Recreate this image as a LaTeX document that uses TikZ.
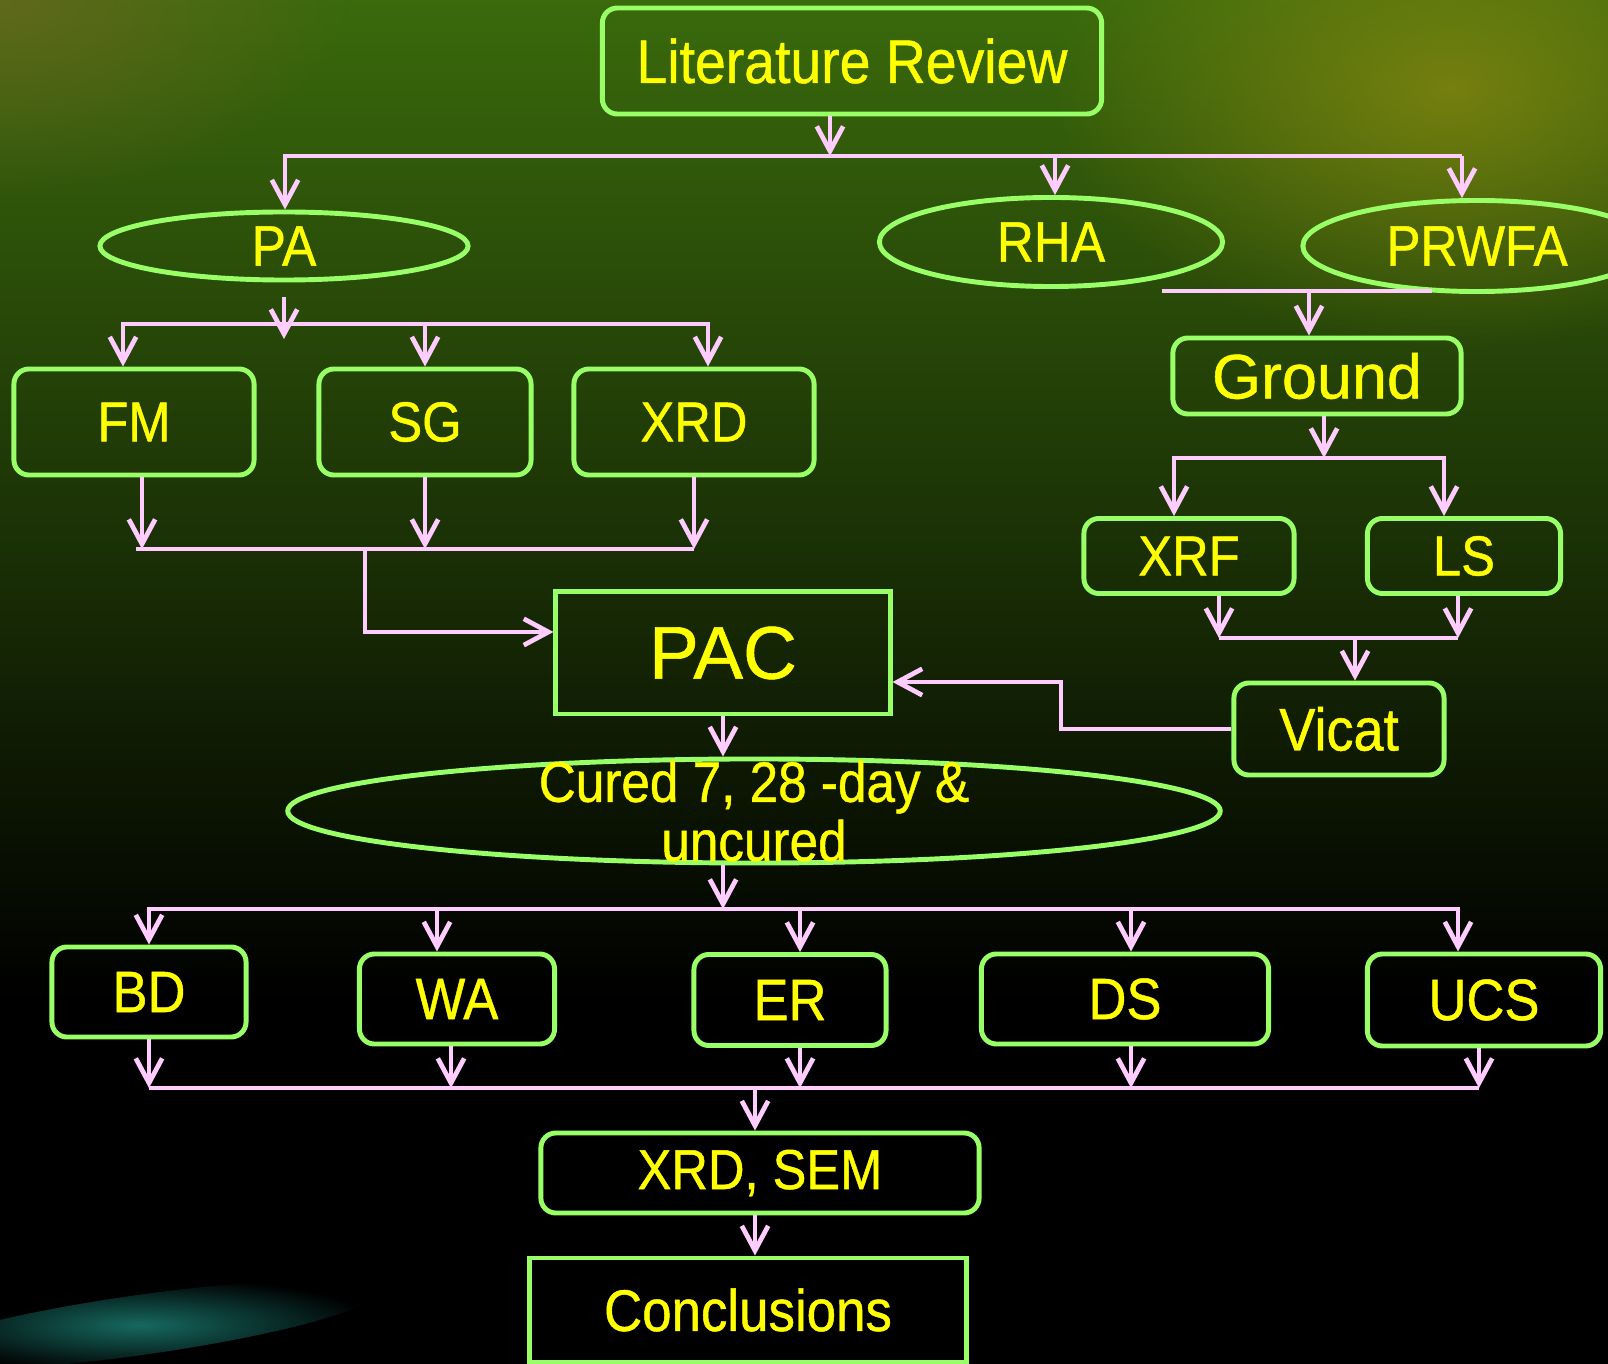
\documentclass[tikz,border=0pt]{standalone}
\usepackage{fontspec}
\setmainfont{Liberation Sans}[FakeStretch=0.9, FakeBold=0.8]
\newfontfamily\widefont{Liberation Sans}[FakeBold=0.8]
\usetikzlibrary{arrows.meta,shapes.geometric,fadings}
\definecolor{boxgreen}{HTML}{99FF66}
\definecolor{linkpink}{HTML}{FFCCFF}
\definecolor{txtyellow}{HTML}{FFFF00}
\definecolor{bgtop}{HTML}{3A6A0C}
\definecolor{bgmid}{HTML}{0B3D16}
\definecolor{smoke}{HTML}{8A8A10}
\definecolor{streak}{HTML}{1E8C80}
\tikzfading[name=glowfade, inner color=transparent!25, outer color=transparent!100]
\tikzset{
	nbox/.style={draw=boxgreen, line width=1.4pt, rounded corners=0.15cm, inner sep=0pt, text=txtyellow, font=\fontsize{16}{18}\selectfont},
	sqbox/.style={nbox, rounded corners=0pt},
	oval/.style={ellipse, draw=boxgreen, line width=1.4pt, inner sep=0pt, text=txtyellow, font=\fontsize{16.2}{18}\selectfont},
	link/.style={draw=linkpink, line width=1.35pt},
	arr/.style={link, -{Straight Barb[length=7pt,width=7.5pt]}},
}

\begin{document}
\begin{tikzpicture}[x=0.01cm, y=-0.01cm]
		%%%%% BACKGROUND %%%%%
		\useasboundingbox (0,0) rectangle (1608,1364);
		\begin{scope}
		\clip (0,0) rectangle (1608,1364);
		\fill[black] (0,0) rectangle (1608,1364);
		\shade[top color=bgtop, middle color=bgmid, bottom color=black] (0,0) rectangle (1608,1000);
		\fill[color=olive!70!black, path fading=glowfade] (0,0) ellipse [x radius=3.5cm, y radius=2cm];
		\fill[color=smoke, path fading=glowfade] (1450,90) ellipse [x radius=4cm, y radius=2.6cm];
		\fill[color=streak, path fading=glowfade, rotate around={8:(140,1325)}] (140,1325) ellipse [x radius=2.4cm, y radius=0.3cm];
		\end{scope}
		
		%%%%% NODES %%%%%
		\node[nbox, minimum width=4.99cm, minimum height=1.06cm, font=\fontsize{17.5}{20}\selectfont] (lit) at (852,61) {Literature Review};
		
		\node[oval, minimum width=3.68cm, minimum height=0.68cm] (pa) at (284,246) {PA};
		\node[oval, minimum width=3.43cm, minimum height=0.89cm] (rha) at (1051,242) {RHA};
		\node[oval, minimum width=3.48cm, minimum height=0.91cm] (prwfa) at (1477,246) {PRWFA};
		
		\node[nbox, minimum width=2.40cm, minimum height=1.06cm] (fm) at (134,422) {FM};
		\node[nbox, minimum width=2.12cm, minimum height=1.06cm] (sg) at (425,422) {SG};
		\node[nbox, minimum width=2.40cm, minimum height=1.06cm] (xrd) at (694,422) {XRD};
		
		\node[nbox, minimum width=2.88cm, minimum height=0.76cm, font=\widefont\fontsize{17.9}{20}\selectfont] (ground) at (1317,376) {Ground};
		\node[nbox, minimum width=2.10cm, minimum height=0.75cm] (xrf) at (1189,556) {XRF};
		\node[nbox, minimum width=1.93cm, minimum height=0.75cm] (ls) at (1464,556) {LS};
		\node[nbox, minimum width=2.10cm, minimum height=0.92cm, font=\fontsize{17.1}{19}\selectfont] (vicat) at (1339,729) {Vicat};
		
		\node[sqbox, minimum width=3.34cm, minimum height=1.22cm, font=\widefont\fontsize{21.2}{24}\selectfont] (pac) at (723,653) {PAC};
		
		\node[oval, minimum width=9.32cm, minimum height=1.04cm] (cured) at (754,811) {};
		\node[text=txtyellow, align=center, inner sep=0pt, font=\fontsize{16.2}{16.8}\selectfont] (curedtxt) at (cured) {Cured 7, 28 -day \&\\uncured};
		
		\node[nbox, minimum width=1.94cm, minimum height=0.90cm, font=\fontsize{16.6}{18}\selectfont] (bd) at (149,992) {BD};
		\node[nbox, minimum width=1.95cm, minimum height=0.90cm, font=\fontsize{16.6}{18}\selectfont] (wa) at (457,999) {WA};
		\node[nbox, minimum width=1.92cm, minimum height=0.91cm, font=\fontsize{16.6}{18}\selectfont] (er) at (790,1000) {ER};
		\node[nbox, minimum width=2.87cm, minimum height=0.90cm, font=\fontsize{16.6}{18}\selectfont] (ds) at (1125,999) {DS};
		\node[nbox, minimum width=2.33cm, minimum height=0.92cm, font=\fontsize{16.6}{18}\selectfont] (ucs) at (1484,1000) {UCS};
		
		\node[nbox, minimum width=4.38cm, minimum height=0.80cm] (xrdsem) at (760,1173) {XRD, SEM};
		\node[sqbox, minimum width=4.36cm, minimum height=1.04cm, font=\fontsize{16.7}{18}\selectfont] (concl) at (748,1310) {Conclusions};
		
		%%%%% CONNECTORS %%%%%
		\coordinate (topL) at (285,156);
		\coordinate (topR) at (1462,156);
		\draw[arr] ([xshift=-0.22cm]lit.south) -- ([xshift=-0.22cm]lit.south |- topL);
		\draw[arr] (topR) -- (topL) -- (topL |- pa.north);
		\draw[arr] ([xshift=0.04cm]rha.north |- topL) -- ([xshift=0.04cm]rha.north);
		\draw[arr] (topR) -- (topR |- prwfa.north);
		
		\coordinate (pbL) at (123,324);
		\coordinate (pbR) at (708,324);
		\draw[arr] ([yshift=-0.15cm]pa.south) -- ([yshift=-0.15cm]pa.south |- pbL);
		\draw[arr] (pbR) -- (pbL) -- (pbL |- fm.north);
		\draw[arr] (sg.north |- pbL) -- (sg.north);
		\draw[arr] (pbL) -- (pbR) -- (pbR |- xrd.north);
		
		\coordinate (rL) at (136,549);
		\coordinate (rR) at (694,549);
		\coordinate (rJ) at (365,549);
		\draw[link] (rL) -- (rR);
		\draw[arr] ([xshift=0.08cm]fm.south) -- ([xshift=0.08cm]fm.south |- rL);
		\draw[arr] (sg.south) -- (sg.south |- rL);
		\draw[arr] (xrd.south) -- (xrd.south |- rL);
		\draw[arr] (rJ) |- ([yshift=0.21cm]pac.west);
		
		\coordinate (gbL) at (1162,291);
		\coordinate (gbR) at (1432,291);
		\draw[link] (gbL) -- (gbR);
		\draw[arr] ([xshift=-0.08cm]ground.north |- gbL) -- ([xshift=-0.08cm]ground.north);
		
		\coordinate (gL) at (1174,458);
		\coordinate (gR) at (1444,458);
		\draw[arr] ([xshift=0.07cm]ground.south) -- ([xshift=0.07cm]ground.south |- gL);
		\draw[arr] (gR) -- (gL) -- (gL |- xrf.north);
		\draw[arr] (gL) -- (gR) -- (gR |- ls.north);
		
		\coordinate (vL) at (1219,638);
		\coordinate (vR) at (1458,638);
		\draw[link] (vL) -- (vR);
		\draw[arr] (xrf.south -| vL) -- (vL);
		\draw[arr] (ls.south -| vR) -- (vR);
		\draw[arr] ([xshift=0.16cm]vicat.north |- vL) -- ([xshift=0.16cm]vicat.north);
		
		\coordinate (vk) at (1061,682);
		\draw[arr] (vicat.west) -| (vk) -- (vk -| pac.east);
		
		\draw[arr] (pac.south) -- (pac.south |- cured.north);
		
		\coordinate (cL) at (149,909);
		\coordinate (cR) at (1458,909);
		\draw[arr] (cured.south -| pac.south) -- (pac.south |- cL);
		\draw[arr] (cR) -- (cL) -- (cL |- bd.north);
		\draw[arr] ([xshift=-0.2cm]wa.north |- cL) -- ([xshift=-0.2cm]wa.north);
		\draw[arr] ([xshift=0.1cm]er.north |- cL) -- ([xshift=0.1cm]er.north);
		\draw[arr] ([xshift=0.06cm]ds.north |- cL) -- ([xshift=0.06cm]ds.north);
		\draw[arr] (cL) -- (cR) -- (cR |- ucs.north);
		
		\coordinate (dL) at (149,1088);
		\coordinate (dR) at (1479,1088);
		\draw[link] (dL) -- (dR);
		\draw[arr] (bd.south) -- (bd.south |- dL);
		\draw[arr] ([xshift=-0.06cm]wa.south) -- ([xshift=-0.06cm]wa.south |- dL);
		\draw[arr] ([xshift=0.1cm]er.south) -- ([xshift=0.1cm]er.south |- dL);
		\draw[arr] ([xshift=0.06cm]ds.south) -- ([xshift=0.06cm]ds.south |- dL);
		\draw[arr] ([xshift=-0.05cm]ucs.south) -- ([xshift=-0.05cm]ucs.south |- dL);
		
		\draw[arr] ([xshift=-0.05cm]xrdsem.north |- dL) -- ([xshift=-0.05cm]xrdsem.north);
		\draw[arr] ([xshift=-0.05cm]xrdsem.south) -- ([xshift=-0.05cm]xrdsem.south |- concl.north);
		%%%%% END %%%%%
\end{tikzpicture}
\end{document}
